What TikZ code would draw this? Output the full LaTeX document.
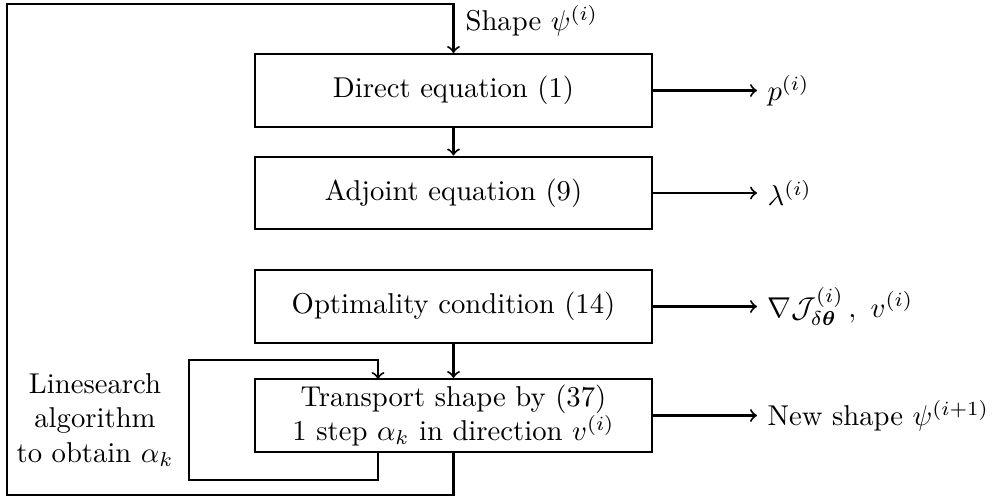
\documentclass[tikz,border=0pt]{standalone}
\usepackage{amsmath,amssymb,bm}
\begin{document}
\begin{tikzpicture}[x=0.012248cm,y=-0.012248cm, line width=0.7pt,
  box/.style={draw, minimum width=4.862cm, minimum height=0.894cm, inner sep=2pt, align=center},
  outlabel/.style={anchor=west}]
\useasboundingbox (0,0) rectangle (992,499);
% boxes
\node[box] (direct) at (453.5,90.5) {Direct equation (1)};
\node[box] (adjoint) at (453.5,193) {Adjoint equation (9)};
\node[box] (optim) at (453.5,306.5) {Optimality condition (14)};
\node[box] (transp) at (453.5,415.5) {Transport shape by (37)\\1 step $\alpha_k$ in direction $v^{(i)}$};
% outputs
\node[outlabel] (p) at (757,90.5) {$p^{(i)}$};
\node[outlabel] (lam) at (757,193) {$\lambda^{(i)}$};
\node[outlabel] (grad) at (757,306.5) {$\nabla\mathcal{J}^{(i)}_{\delta\boldsymbol{\theta}}\,,\ v^{(i)}$};
\node[outlabel] (news) at (757,415.5) {New shape $\psi^{(i+1)}$};
\draw[->] (direct.east) -- (direct.east -| p.west);
\draw[->] (adjoint.east) -- (adjoint.east -| lam.west);
\draw[->] (optim.east) -- (optim.east -| grad.west);
\draw[->] (transp.east) -- (transp.east -| news.west);
% vertical flow
\draw[->] (direct.south) -- (adjoint.north);
\draw[->] (optim.south) -- (transp.north);
% outer loop
\coordinate (ob) at (453.5,495);
\coordinate (obl) at (7,495);
\coordinate (otl) at (7,4);
\coordinate (ot) at (453.5,4);
\draw[->] (transp.south) -- (ob) -- (obl) -- (otl) -- (ot) -- (direct.north);
\node[anchor=west] (shape) at (455,21) {Shape $\psi^{(i)}$};
% inner linesearch loop
\coordinate (lsout) at (378,452);
\coordinate (lsb) at (378,480);
\coordinate (lsbl) at (189,480);
\coordinate (lstl) at (189,360);
\coordinate (lst) at (378,360);
\coordinate (lsin) at (378,379);
\draw[->] (lsout) -- (lsb) -- (lsbl) -- (lstl) -- (lst) -- (lsin);
\node[align=center] (ls) at (95,420) {Linesearch\\algorithm\\to obtain $\alpha_k$};
\end{tikzpicture}
\end{document}
